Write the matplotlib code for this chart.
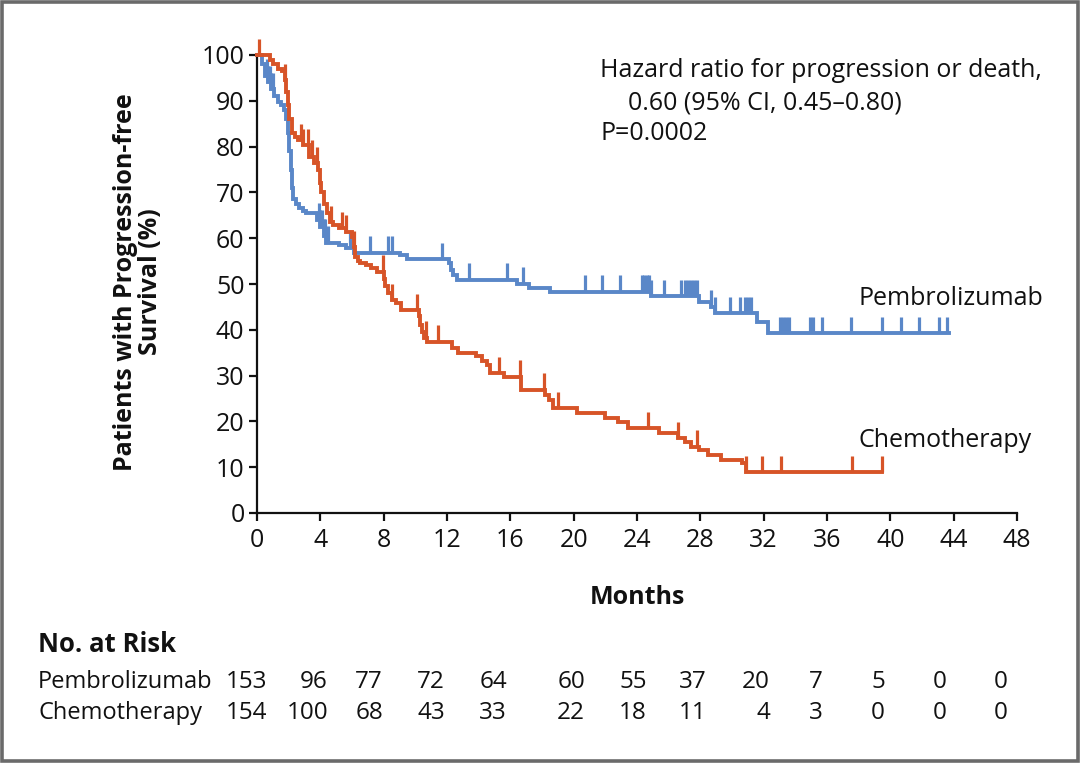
import matplotlib
matplotlib.use("Agg")
import matplotlib.pyplot as plt
import matplotlib.transforms as mtransforms
from matplotlib.patches import Rectangle
import numpy as np

plt.rcParams['font.family'] = ['Open Sans', 'DejaVu Sans']

BLUE = "#5a87c8"
RED = "#d75428"
INK = "#111111"

# Kaplan-Meier steps: (month, % progression-free)
pembro_t = [0, 0.3, 0.5, 0.7, 0.9, 1.1, 1.3, 1.5, 1.7, 1.85, 1.95, 2.05, 2.12, 2.2,
            2.3, 2.45, 2.65, 2.9, 3.1, 3.8, 4.0, 4.2, 4.35, 5.2, 5.6, 6.1, 9.0, 9.5,
            12.1, 12.25, 12.4, 12.6, 16.4, 17.2, 18.5, 24.9, 27.9, 28.7, 28.9, 31.6, 32.3]
pembro_s = [100, 98, 95.5, 94, 92.5, 91, 89.8, 89, 88, 86, 83, 79, 75, 71,
            68.5, 67.5, 66.5, 66, 65.5, 64, 62.5, 60.5, 59, 58.5, 57.8, 56.8, 56.3, 55.4,
            54.5, 53, 52, 50.9, 50.1, 49.1, 48.3, 47.3, 46.1, 45, 43.6, 41.8, 39.2]
pembro_end = 43.7
pembro_cens = [0.6, 0.7, 0.8, 0.9, 1.0, 3.9, 4.0, 4.1, 4.2, 4.3, 4.5, 5.9, 7.14, 8.3, 8.55,
               11.7, 13.4, 15.8, 16.8, 20.7, 21.8, 22.9, 24.3, 24.45, 24.6, 24.75, 24.9,
               25.7, 26.8, 27.0, 27.2, 27.4, 27.6, 27.8, 28.7, 28.9, 29.9, 30.5, 30.8, 31.0,
               31.2, 33.0, 33.2, 33.4, 33.6, 34.9, 35.1, 35.7, 37.5, 39.5, 40.7, 41.8,
               43.1, 43.6]

chemo_t = [0, 0.8, 1.0, 1.3, 1.55, 1.75, 1.85, 1.95, 2.05, 2.2, 2.4, 2.6, 2.9, 3.3, 3.6,
           3.85, 3.95, 4.05, 4.2, 4.4, 4.6, 4.8, 5.2, 5.6, 6.0, 6.1, 6.2, 6.35, 6.5, 6.9,
           7.2, 7.6, 8.0, 8.1, 8.25, 8.5, 8.8, 9.1, 10.2, 10.3, 10.4, 10.55, 10.75, 12.3,
           12.7, 13.8, 14.2, 14.5, 14.7, 15.6, 16.7, 18.2, 18.45, 18.7, 20.2, 22.0, 22.8,
           23.4, 25.4, 26.6, 27.0, 27.4, 27.9, 28.5, 29.3, 30.6, 30.9]
chemo_s = [100, 99, 98, 97, 96.4, 94.5, 92, 89, 86, 83, 82, 81.4, 80.3, 77.8, 76.4,
           75, 72, 70, 67.5, 65.5, 63.5, 62.9, 62.2, 61.4, 60.3, 58, 56, 55, 54.5, 54.1,
           53.4, 52.7, 51, 49.5, 48, 46.5, 45.8, 44.3, 43, 41, 39.5, 38.3, 37.4, 36,
           34.9, 34.2, 33.1, 32.3, 30.5, 29.8, 26.9, 25.8, 24.7, 22.9, 21.8, 20.7, 19.9,
           18.5, 17.4, 16.3, 15.6, 14.5, 13.8, 12.7, 11.6, 10.9, 8.9]
chemo_end = 39.45
chemo_cens = [0.1, 1.75, 2.8, 2.9, 3.2, 3.45, 3.8, 4.7, 5.35, 5.6, 6.1, 7.98, 8.5, 10.1,
              10.7, 11.45, 15.3, 16.6, 18.1, 19.0, 24.7, 26.6, 27.8, 30.9, 31.9, 33.1,
              37.6, 39.45]

risk_months = [0, 4, 8, 12, 16, 20, 24, 28, 32, 36, 40, 44, 48]
risk_pembro = [153, 96, 77, 72, 64, 60, 55, 37, 20, 7, 5, 0, 0]
risk_chemo = [154, 100, 68, 43, 33, 22, 18, 11, 4, 3, 0, 0, 0]

# right edge of each number column (months), as laid out in the original table
risk_col_x = [0.63, 4.48, 7.96, 11.87, 15.79, 20.72, 24.63, 28.42, 32.40, 35.75,
              39.66, 43.58, 47.43]

fig = plt.figure(figsize=(10.8, 7.63), dpi=100)
ax = fig.add_axes([257 / 1080, 250 / 763, 760 / 1080, 458 / 763])


def km(t, s, end, cens, color):
    tt = list(t) + [end]
    ss = list(s) + [s[-1]]
    ax.step(tt, ss, where="post", color=color, lw=2.8, clip_on=False,
            solid_joinstyle="miter", zorder=3)
    idx = np.searchsorted(t, cens, side="right") - 1
    base = np.array(s)[idx]
    ax.vlines(cens, base, base + 3.6, color=color, lw=2.3, clip_on=False, zorder=3)


km(pembro_t, pembro_s, pembro_end, pembro_cens, BLUE)
km(chemo_t, chemo_s, chemo_end, chemo_cens, RED)

ax.set_xlim(0, 48)
ax.set_ylim(0, 100)
ax.set_xticks(range(0, 49, 4))
ax.set_yticks(range(0, 101, 10))
for side in ("top", "right"):
    ax.spines[side].set_visible(False)
for side in ("left", "bottom"):
    ax.spines[side].set_linewidth(1.6)
    ax.spines[side].set_color(INK)
ax.tick_params(direction="out", length=6, width=1.6, colors=INK, labelsize=18, pad=3)
ax.tick_params(axis="x", pad=5)

ax.set_xlabel("Months", fontsize=18, fontweight="bold", color=INK, labelpad=23)

fig.text(138 / 1080, 1 - 282 / 763, "Patients with Progression-free\nSurvival (%)",
         rotation=90, ha="center", va="center", fontsize=18, fontweight="bold",
         color=INK, linespacing=1.05)

ax.text(21.67, 96.7, "Hazard ratio for progression or death,", fontsize=18,
        color=INK, va="center", ha="left")
ax.text(23.4, 89.5, "0.60 (95% CI, 0.45\u20130.80)", fontsize=18,
        color=INK, va="center", ha="left")
ax.text(21.67, 82.9, "P=0.0002", fontsize=18, color=INK, va="center", ha="left")

ax.text(37.96, 46.9, "Pembrolizumab", fontsize=18, color=INK, va="center", ha="left")
ax.text(37.96, 15.9, "Chemotherapy", fontsize=18, color=INK, va="center", ha="left")

# ---- No. at risk table ----
blend = mtransforms.blended_transform_factory(ax.transData, fig.transFigure)
fig.text(38 / 1080, 1 - 645 / 763, "No. at Risk", fontsize=18.5, fontweight="bold",
         color=INK, va="center", ha="left")
row_y = [1 - 682 / 763, 1 - 713 / 763]
for name, vals, y in (("Pembrolizumab", risk_pembro, row_y[0]),
                      ("Chemotherapy", risk_chemo, row_y[1])):
    fig.text(38 / 1080, y, name, fontsize=17, color=INK, va="center", ha="left")
    for x, v in zip(risk_col_x, vals):
        ax.text(x, y, str(v), transform=blend, fontsize=17.5, color=INK,
                va="center", ha="right")

# grey frame round the whole picture
fig.patches.append(Rectangle((0.0015, 0.002), 0.997, 0.996, transform=fig.transFigure,
                             fill=False, edgecolor="#6a6a6a", linewidth=2.6))

fig.savefig("out.png", dpi=100, facecolor="white")
